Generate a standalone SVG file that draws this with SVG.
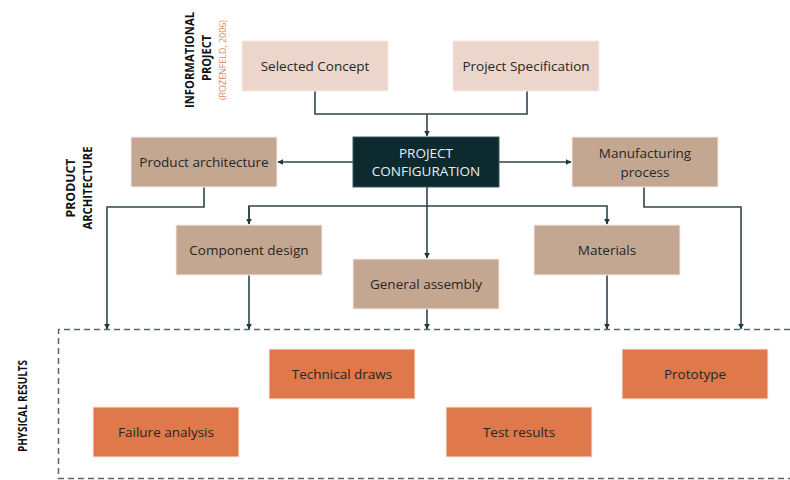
<svg xmlns="http://www.w3.org/2000/svg" width="790" height="480" viewBox="0 0 790 480">
  <defs>
    <marker id="arrow" viewBox="0 0 10 10" refX="9" refY="5" markerWidth="6" markerHeight="6" orient="auto" markerUnits="userSpaceOnUse">
      <path d="M0,0 L10,5 L0,10 z" fill="#1f3a3e"/>
    </marker>
    <style>
      .box { stroke: #f6ece6; stroke-width: 1; }
      .info { fill: #ecd6cb; }
      .arch { fill: #c4a791; }
      .core { fill: #0d2b2f; }
      .res { fill: #df784a; }
      .lbl { font-family: "Open Sans", "Noto Sans", sans-serif; font-size: 13.5px; fill: #262626; text-anchor: middle; }
      .lbl-light { font-family: "Open Sans", "Noto Sans", sans-serif; font-size: 13.5px; fill: #e8eeee; text-anchor: middle; }
      .side { font-family: "Open Sans", "Noto Sans", sans-serif; font-size: 12.5px; font-weight: bold; fill: #111; text-anchor: middle; }
      .side-sm { font-size: 11.5px; }
      .cite { font-family: "Open Sans", "Noto Sans", sans-serif; font-size: 9.5px; fill: #e0875e; text-anchor: middle; }
      .wire { fill: none; stroke: #2c474b; stroke-width: 1.6; }
    </style>
  </defs>

  <rect width="790" height="480" fill="#ffffff"/>

  <!-- section labels -->
  <g id="label-informational">
    <text class="side side-sm" transform="translate(194,60) rotate(-90)" textLength="96" lengthAdjust="spacingAndGlyphs">INFORMATIONAL</text>
    <text class="side side-sm" transform="translate(211,58) rotate(-90)" textLength="46" lengthAdjust="spacingAndGlyphs">PROJECT</text>
    <text class="cite" transform="translate(225.5,60) rotate(-90)" textLength="80" lengthAdjust="spacingAndGlyphs">(ROZENFELD, 2006)</text>
  </g>
  <g id="label-architecture">
    <text class="side" transform="translate(74.5,188) rotate(-90)" textLength="59" lengthAdjust="spacingAndGlyphs">PRODUCT</text>
    <text class="side" transform="translate(91.5,188) rotate(-90)" textLength="83" lengthAdjust="spacingAndGlyphs">ARCHITECTURE</text>
  </g>
  <g id="label-results">
    <text class="side" transform="translate(26.5,406) rotate(-90)" textLength="92" lengthAdjust="spacingAndGlyphs">PHYSICAL RESULTS</text>
  </g>

  <!-- dashed frame for physical results -->
  <path d="M790,329.5 L58.5,329.5 L58.5,478.5 L790,478.5" fill="none" stroke="#56686b" stroke-width="1.5" stroke-dasharray="6,4"/>

  <!-- connectors -->
  <g id="connectors">
    <polyline class="wire" points="315,91 315,114 527,114 527,91"/>
    <polyline class="wire" points="427,114 427,136" marker-end="url(#arrow)"/>
    <polyline class="wire" points="353,162 278,162" marker-end="url(#arrow)"/>
    <polyline class="wire" points="499,162 571,162" marker-end="url(#arrow)"/>
    <polyline class="wire" points="427,187 427,258" marker-end="url(#arrow)"/>
    <polyline class="wire" points="249,224 249,206 607,206 607,224" marker-end="url(#arrow)"/>
    <polyline class="wire" points="249,206 249,224" marker-end="url(#arrow)"/>
    <polyline class="wire" points="204,187 204,207 107,207 107,329" marker-end="url(#arrow)"/>
    <polyline class="wire" points="644,187 644,207 741,207 741,329" marker-end="url(#arrow)"/>
    <polyline class="wire" points="249,275 249,329" marker-end="url(#arrow)"/>
    <polyline class="wire" points="427,309 427,329" marker-end="url(#arrow)"/>
    <polyline class="wire" points="607,275 607,329" marker-end="url(#arrow)"/>
  </g>

  <!-- informational project -->
  <g id="selected-concept">
    <rect class="box info" x="242" y="41" width="146" height="50"/>
    <text class="lbl" x="315" y="71">Selected Concept</text>
  </g>
  <g id="project-specification">
    <rect class="box info" x="453" y="41" width="146" height="50"/>
    <text class="lbl" x="526" y="71">Project Specification</text>
  </g>

  <!-- product architecture -->
  <g id="project-configuration">
    <rect class="core" x="353" y="137" width="146" height="50" stroke="#3d5a5e" stroke-width="1"/>
    <text class="lbl-light" x="426" y="158">PROJECT</text>
    <text class="lbl-light" x="426" y="176">CONFIGURATION</text>
  </g>
  <g id="product-architecture">
    <rect class="box arch" x="131" y="137" width="146" height="50"/>
    <text class="lbl" x="204" y="167">Product architecture</text>
  </g>
  <g id="manufacturing-process">
    <rect class="box arch" x="572" y="137" width="146" height="50"/>
    <text class="lbl" x="645" y="158">Manufacturing</text>
    <text class="lbl" x="645" y="177">process</text>
  </g>
  <g id="component-design">
    <rect class="box arch" x="176" y="225" width="146" height="50"/>
    <text class="lbl" x="249" y="255">Component design</text>
  </g>
  <g id="general-assembly">
    <rect class="box arch" x="353" y="259" width="146" height="50"/>
    <text class="lbl" x="426" y="289">General assembly</text>
  </g>
  <g id="materials">
    <rect class="box arch" x="534" y="225" width="146" height="50"/>
    <text class="lbl" x="607" y="255">Materials</text>
  </g>

  <!-- physical results -->
  <g id="technical-draws">
    <rect class="box res" x="269" y="349" width="146" height="50"/>
    <text class="lbl" x="342" y="379">Technical draws</text>
  </g>
  <g id="prototype">
    <rect class="box res" x="622" y="349" width="146" height="50"/>
    <text class="lbl" x="695" y="379">Prototype</text>
  </g>
  <g id="failure-analysis">
    <rect class="box res" x="93" y="407" width="146" height="50"/>
    <text class="lbl" x="166" y="437">Failure analysis</text>
  </g>
  <g id="test-results">
    <rect class="box res" x="446" y="407" width="146" height="50"/>
    <text class="lbl" x="519" y="437">Test results</text>
  </g>
</svg>
